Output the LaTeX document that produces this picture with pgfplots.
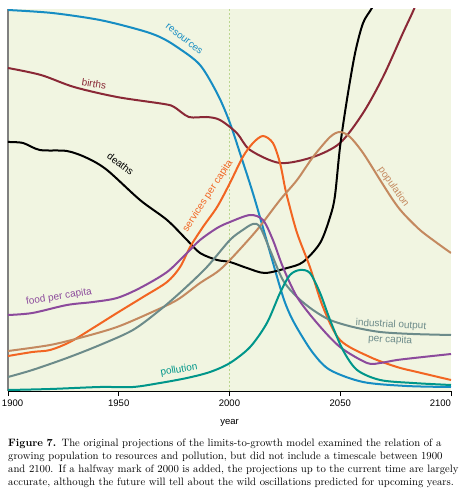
\documentclass[border=0pt]{standalone}
\usepackage{fontspec}
\setsansfont{Liberation Sans}
\usepackage{pgfplots}
\pgfplotsset{compat=1.18}
\definecolor{bg}{HTML}{F1F5E1}
\definecolor{resblue}{HTML}{168DC3}
\definecolor{births}{HTML}{8A2836}
\definecolor{services}{HTML}{F26522}
\definecolor{popul}{HTML}{C4895F}
\definecolor{food}{HTML}{8C4A9C}
\definecolor{indus}{HTML}{6C8B8A}
\definecolor{pollu}{HTML}{00968A}
\definecolor{dotg}{HTML}{BBD68E}
\newcommand{\lab}{\sffamily\fontsize{10}{11}\selectfont}
\begin{document}
\begin{tikzpicture}
\path[use as bounding box] (-8pt,-107pt) rectangle (452pt,391pt);
\begin{axis}[
 scale only axis, width=443pt, height=382pt,
 xmin=1900, xmax=2100, ymin=0, ymax=382, enlargelimits=false,
 axis lines=left, axis line style={-},
 x axis line style={black, line width=0.9pt},
 y axis line style={black!50, line width=2pt},
 axis background/.style={fill=bg},
 xtick={1900,1950,2000,2050,2100},
 xticklabels={\makebox[0pt][l]{\hspace*{-6pt}1900},1950,2000,2050,\makebox[0pt][r]{2100}},
 ytick=\empty,
 tick align=outside, major tick length=5pt,
 xtick style={black, line width=0.8pt},
 ticklabel style={font=\sffamily\fontsize{9.5}{11}\selectfont},
 /pgf/number format/assume math mode=true,
 xlabel={year}, xlabel style={font=\sffamily\fontsize{9.5}{11}\selectfont, yshift=-6pt},
 every axis plot/.append style={line width=2pt, smooth, tension=0.5},
]
\addplot[dotg, line width=1.3pt, sharp plot, dash pattern=on 2pt off 2pt] coordinates {(2000,0) (2000,382)};
% resources
\addplot[resblue] coordinates {(1900,381) (1920,378) (1941.5,371) (1959.6,361) (1968.6,354) (1976.3,344) (1986.7,326) (1994.8,296) (2000.2,268) (2005,236) (2011.5,191) (2022.8,104) (2026.4,81) (2030.5,63) (2037.7,38) (2045.4,21) (2060.3,9) (2080,5) (2100,4)};
% births
\addplot[births] coordinates {(1900,323) (1914.9,316) (1929.8,304) (1949.2,294) (1970.4,287) (1975,284) (1981.7,274) (1989.8,274) (1995.7,271) (2003.3,258) (2009.3,241) (2022.8,228) (2037.7,234) (2049.9,248) (2060.3,278) (2069.3,314) (2078.3,358) (2083.7,384) (2088,410)};
% deaths
\addplot[black] coordinates {(1900,249) (1906.8,248) (1914.4,241) (1926.6,240) (1935.7,233) (1944.7,221) (1959.6,191) (1971.8,171) (1980.8,151) (1986.7,138) (1994.4,131) (2000.2,129) (2007.9,123) (2016,118) (2026,123) (2033.2,129) (2040.9,148) (2045.4,174) (2047.6,195) (2049.9,244) (2053,291) (2056.7,338) (2060.3,368) (2064.3,383) (2068,400)};
% services per capita
\addplot[services] coordinates {(1900,35) (1911,39) (1919,41) (1928,49) (1938.4,63) (1949.2,78) (1961,94) (1971.8,109) (1977.7,124) (1982.2,144) (1988,164) (1994.4,184) (2000.2,208) (2006,234) (2010.6,248) (2015.1,255) (2019.6,248) (2022.8,228) (2025,204) (2026.4,191) (2030.5,158) (2036.3,124) (2042.2,84) (2049.9,51) (2063.4,34) (2075.6,24) (2084.7,19) (2100,11)};
% population
\addplot[popul] coordinates {(1900,40) (1919,46) (1933.9,54) (1949.2,64) (1964.1,78) (1976.3,91) (1986.7,108) (1994.4,119) (2000.2,131) (2012.4,161) (2022.8,191) (2030.5,211) (2037.7,234) (2045.4,254) (2049.9,259) (2054.4,254) (2060.3,238) (2068,211) (2073.8,191) (2078.3,178) (2086,161) (2093.7,148) (2100,138)};
% industrial output per capita
\addplot[indus] coordinates {(1900,14) (1911,21) (1926.6,33) (1941.5,46) (1956.4,61) (1968.6,81) (1979,101) (1989.8,124) (2000.2,151) (2006,161) (2010.6,167) (2013.8,164) (2018.3,141) (2024.1,111) (2030.5,94) (2037.7,81) (2045.4,71) (2055.8,64) (2068,59) (2082.8,57) (2100,56)};
% food per capita
\addplot[food] coordinates {(1900,76) (1911,78) (1926.6,86) (1938.4,89) (1949.2,93) (1959.6,103) (1971.8,119) (1980.8,138) (1986.7,151) (1994.4,163) (2000.2,169) (2009.3,176) (2015.1,171) (2019.6,151) (2024.1,124) (2030.5,94) (2039.5,68) (2049.9,44) (2062.1,28) (2068,28) (2075.6,31) (2087.4,34) (2100,37)};
% pollution
\addplot[pollu] coordinates {(1900,1) (1919,2) (1941.5,4) (1956.4,4) (1968.6,8) (1980.8,13) (1991.2,19) (2000.2,28) (2009.3,44) (2016.9,68) (2022.8,98) (2027.3,116) (2031.8,121) (2036.3,118) (2040.9,98) (2045.4,71) (2051.2,41) (2057.6,21) (2068,11) (2082.8,8) (2100,6)};
\node[text=resblue, font=\lab, rotate=-38] at (axis cs:1979.5,352) {resources};
\node[text=births, font=\lab, rotate=-9] at (axis cs:1938.8,307) {births};
\node[text=black, font=\lab, rotate=-37] at (axis cs:1950.8,227) {deaths};
\node[text=services, font=\lab, rotate=57] at (axis cs:1990.3,195) {services per capita};
\node[text=popul, font=\lab, rotate=-55] at (axis cs:2074,204) {population};
\node[text=food, font=\lab, rotate=9] at (axis cs:1923,94) {food per capita};
\node[text=pollu, font=\lab, rotate=10] at (axis cs:1977.2,21) {pollution};
\node[text=indus, font=\lab, rotate=-3] at (axis cs:2072.9,66) {industrial output};
\node[text=indus, font=\lab, rotate=-3] at (axis cs:2072.5,51) {per capita};
\end{axis}
\node[anchor=base west, inner sep=0pt, text width=443pt, align=left, font=\fontsize{10.7}{13}\selectfont] at (0pt,-55pt) {%
\makebox[443pt][s]{\textbf{Figure 7.} The original projections of the limits-to-growth model examined the relation of a}\\
\makebox[443pt][s]{growing population to resources and pollution, but did not include a timescale between 1900}\\
\makebox[443pt][s]{and 2100. If a halfway mark of 2000 is added, the projections up to the current time are largely}\\
\makebox[443pt][s]{accurate, although the future will tell about the wild oscillations predicted for upcoming years.}};
\end{tikzpicture}
\end{document}
